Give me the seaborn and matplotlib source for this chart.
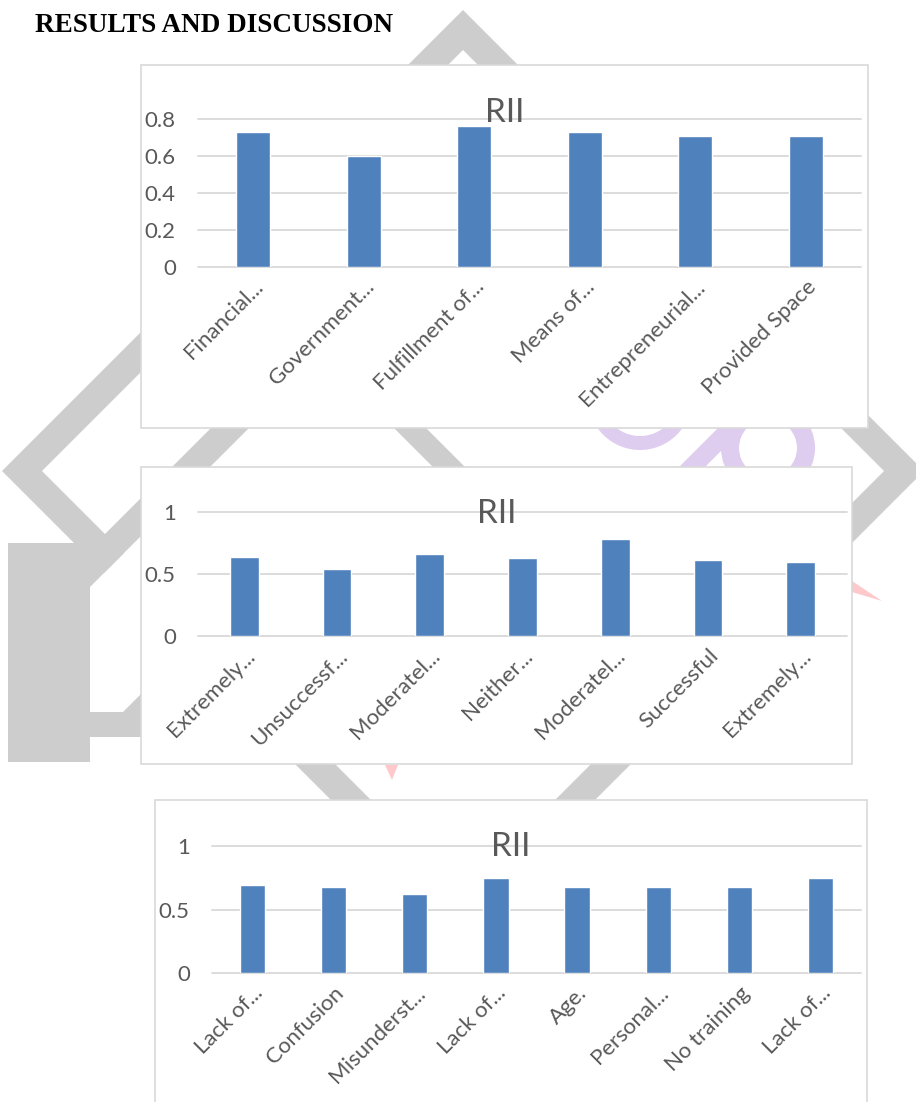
import matplotlib
matplotlib.use("Agg")
import matplotlib.pyplot as plt
import matplotlib.patches as mpatches
from matplotlib.transforms import ScaledTranslation
import seaborn as sns

# chart 1
labels1 = ["Financial...", "Government...", "Fulfillment of...", "Means of...",
           "Entrepreneurial...", "Provided Space"]
rii1 = [0.73, 0.60, 0.76, 0.73, 0.71, 0.71]

# chart 2
labels2 = ["Extremely...", "Unsuccessf...", "Moderatel...", "Neither...",
           "Moderatel...", "Successful", "Extremely..."]
rii2 = [0.64, 0.54, 0.66, 0.63, 0.78, 0.61, 0.60]

# chart 3
labels3 = ["Lack of...", "Confusion", "Misunderst...", "Lack of...", "Age.",
           "Personal...", "No training", "Lack of..."]
rii3 = [0.69, 0.68, 0.62, 0.75, 0.68, 0.68, 0.68, 0.75]

W, H = 916, 1102
BAR = "#4F81BD"
GRID = "#d9d9d9"
TXT = "#595959"

sns.set_theme(style="white")
plt.rcParams["font.family"] = ["Lato", "DejaVu Sans"]

fig = plt.figure(figsize=(W / 100, H / 100), dpi=100)
fig.patch.set_facecolor("white")


def P(x, y):
    # pixel (from top-left) -> figure fraction
    return (x / W, 1 - y / H)


def poly(pts, color, z):
    fig.add_artist(mpatches.Polygon([P(x, y) for x, y in pts], closed=True,
                                    facecolor=color, edgecolor="none",
                                    transform=fig.transFigure, zorder=z))


# --- watermark in the background ---
gray = "#cdcdcd"
cx, cy, r, t = 463, 471, 461, 40
poly([(cx, cy - r), (cx + r, cy), (cx, cy + r), (cx - r, cy)], gray, -5)
poly([(cx, cy - r + t), (cx + r - t, cy), (cx, cy + r - t), (cx - r + t, cy)], "white", -5)
poly([(90, 587), (141, 536), (141, 693), (123, 712), (90, 712)], "white", -5)
poly([(90, 549), (318.5, 320.5), (648, 650), (616, 650), (321.5, 355.5), (90, 587)], gray, -5)
poly([(8, 543), (90, 543), (90, 762), (8, 762)], gray, -5)
poly([(90, 712), (123, 712), (141, 694), (141, 737), (90, 737)], gray, -5)
purple = "#dfcdf0"
for (px_, py_, rr, ww) in [(640, 398, 45, 14), (768, 448, 38, 18)]:
    c = P(px_, py_)
    fig.add_artist(mpatches.Ellipse(c, 2 * rr / W, 2 * rr / H, facecolor="none",
                                    edgecolor=purple, lw=ww * 0.72,
                                    transform=fig.transFigure, zorder=-5))
poly([(676, 470), (702, 470), (772, 400), (746, 400)], purple, -5)
pink = "#ffc9cc"
poly([(852, 581), (882, 601), (852, 592)], pink, -5)
poly([(385, 765), (398, 765), (392, 780)], pink, -5)

# --- panel boxes ---
for (x0, y0, x1, y1) in [(141, 65, 868, 428), (141, 467, 852, 764), (155, 800, 867, 1115)]:
    fig.add_artist(mpatches.Rectangle(P(x0, y1), (x1 - x0) / W, (y1 - y0) / H,
                                      facecolor="white", edgecolor=GRID, lw=1.2,
                                      transform=fig.transFigure, zorder=-3))

fig.text(35 / W, 1 - 32 / H, "RESULTS AND DISCUSSION", family="Liberation Serif",
         weight="bold", fontsize=19.5, color="black", va="baseline")

charts = [
    (labels1, rii1, (198, 119, 861, 267), 0.8, [0, 0.2, 0.4, 0.6, 0.8], 505, 122),
    (labels2, rii2, (198, 512, 847, 636), 1.0, [0, 0.5, 1], 497, 523),
    (labels3, rii3, (212, 846, 861, 973), 1.0, [0, 0.5, 1], 511, 856),
]

for labels, vals, (x0, y0, x1, y1), top, ticks, tx, ty in charts:
    ax = fig.add_axes([x0 / W, 1 - y1 / H, (x1 - x0) / W, (y1 - y0) / H])
    ax.patch.set_alpha(0)
    idx = list(range(len(labels)))
    sns.barplot(x=idx, y=vals, color=BAR, saturation=1, width=0.31, ax=ax, zorder=3)
    ax.set_xlim(-0.5, len(labels) - 0.5)
    ax.set_ylim(0, top)
    ax.set_yticks(ticks)
    ax.set_yticklabels([f"{v:g}" for v in ticks], fontsize=16, color=TXT)
    ax.set_xticks(idx)
    ax.set_xticklabels(labels, rotation=45, ha="right", va="top",
                       rotation_mode="anchor", fontsize=16, color=TXT)
    for lbl in ax.get_xticklabels():
        lbl.set_transform(lbl.get_transform() + ScaledTranslation(3 / 72, 0, fig.dpi_scale_trans))
    ax.tick_params(axis="x", length=0, pad=7)
    ax.tick_params(axis="y", length=0, pad=16)
    ax.set_xlabel("")
    ax.set_ylabel("")
    sns.despine(ax=ax, left=True, bottom=True)
    ax.grid(axis="y", color=GRID, lw=1.3)
    ax.grid(axis="x", visible=False)
    for gl in ax.get_ygridlines():
        gl.set_clip_on(False)
    ax.set_axisbelow(True)
    fig.text(tx / W, 1 - ty / H, "RII", fontsize=24, color=TXT, ha="center",
             va="baseline")

fig.savefig("out.png", dpi=100)
